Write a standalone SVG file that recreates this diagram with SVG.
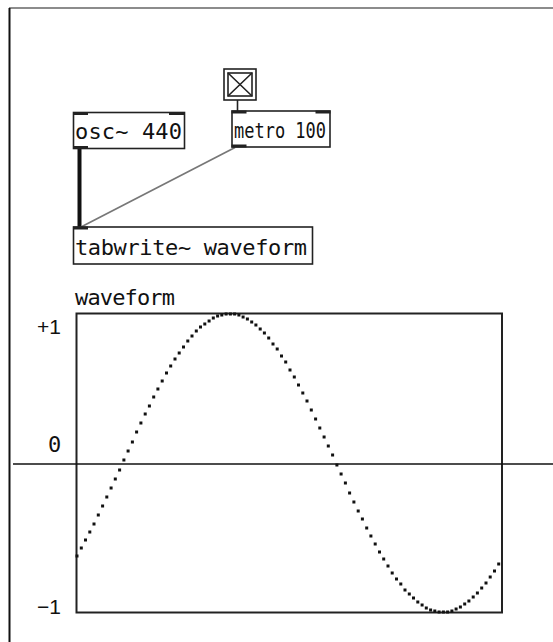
<svg xmlns="http://www.w3.org/2000/svg" width="553" height="642" viewBox="0 0 553 642">
<style>
.box{fill:#fff;stroke:#222;stroke-width:1.6}
.io{fill:#222}
.t{font-family:"DejaVu Sans Mono","Liberation Mono",monospace;font-size:22px;fill:#111}
.lbl{font-family:"Liberation Sans",Arial,sans-serif;font-size:21px;fill:#111}
</style>
<rect x="0" y="0" width="553" height="642" fill="#fff"/>
<g id="frame">
<line x1="9" y1="8" x2="553" y2="8" stroke="#666" stroke-width="1.5"/>
<line x1="9.5" y1="8" x2="9.5" y2="642" stroke="#111" stroke-width="2"/>
</g>
<g id="connectors">
<line x1="79.5" y1="148" x2="79.5" y2="228" stroke="#111" stroke-width="4"/>
<line x1="235" y1="147.5" x2="80" y2="227.5" stroke="#777" stroke-width="1.6"/>
<line x1="237.5" y1="100" x2="237.5" y2="111" stroke="#222" stroke-width="1.6"/>
</g>
<g id="toggle">
<rect class="box" x="224" y="69" width="32" height="31"/>
<rect x="228" y="73" width="24" height="23" fill="none" stroke="#222" stroke-width="1.6"/>
<path d="M228 73L252 96M252 73L228 96" stroke="#222" stroke-width="1.6"/>
</g>
<g id="osc">
<rect class="box" x="73.5" y="112.5" width="111" height="36"/>
<rect class="io" x="73" y="112" width="15" height="3"/>
<rect class="io" x="169" y="112" width="15.5" height="3"/>
<rect class="io" x="73" y="146" width="15" height="3"/>
<text class="t" x="75" y="139" textLength="107">osc~ 440</text>
</g>
<g id="metro">
<rect class="box" x="232" y="111" width="98" height="36"/>
<rect class="io" x="231.5" y="110.5" width="15" height="3"/>
<rect class="io" x="315.5" y="110.5" width="15" height="3"/>
<rect class="io" x="231.5" y="144.5" width="15" height="3"/>
<text class="t" x="234" y="138" textLength="92" lengthAdjust="spacingAndGlyphs">metro 100</text>
</g>
<g id="tabwrite">
<rect class="box" x="73.5" y="227" width="239" height="37"/>
<rect class="io" x="73" y="226.5" width="15" height="3"/>
<text class="t" x="75" y="255" textLength="232">tabwrite~ waveform</text>
</g>
<g id="graph">
<text class="t" x="75" y="305" textLength="100">waveform</text>
<rect x="76.5" y="313.5" width="425.5" height="299" fill="none" stroke="#222" stroke-width="2"/>
<line x1="13" y1="464" x2="553" y2="464" stroke="#111" stroke-width="1.6"/>
<text class="lbl" x="37" y="334">+1</text>
<text class="t" x="48" y="452">0</text>
<text class="lbl" x="37" y="614">−1</text>
<path fill="none" stroke="#111" stroke-width="3" d="M75.5 556h3M79.8 548h3M84 540h3M88.3 532h3M92.5 524h3M96.8 515h3M101.1 506h3M105.3 497h3M109.6 488h3M113.8 479h3M118.1 470h3M122.4 460h3M126.6 451h3M130.9 442h3M135.1 432h3M139.4 423h3M143.7 414h3M147.9 406h3M152.2 397h3M156.4 389h3M160.7 381h3M165 373h3M169.2 366h3M173.5 359h3M177.7 353h3M182 347h3M186.3 341h3M190.5 336h3M194.8 331h3M199 327h3M203.3 324h3M207.6 321h3M211.8 318h3M216.1 316h3M220.3 315h3M224.6 314h3M228.9 314h3M233.1 314h3M237.4 315h3M241.6 317h3M245.9 319h3M250.2 322h3M254.4 325h3M258.7 329h3M262.9 333h3M267.2 338h3M271.5 344h3M275.7 349h3M280 356h3M284.2 362h3M288.5 370h3M292.8 377h3M297 385h3M301.3 393h3M305.5 401h3M309.8 410h3M314.1 419h3M318.3 428h3M322.6 437h3M326.8 446h3M331.1 455h3M335.4 465h3M339.6 474h3M343.9 483h3M348.1 493h3M352.4 502h3M356.7 511h3M360.9 519h3M365.2 528h3M369.4 536h3M373.7 544h3M378 552h3M382.2 559h3M386.5 566h3M390.7 573h3M395 579h3M399.3 584h3M403.5 590h3M407.8 594h3M412 598h3M416.3 602h3M420.6 605h3M424.8 608h3M429.1 610h3M433.3 611h3M437.6 612h3M441.9 612h3M446.1 612h3M450.4 611h3M454.6 609h3M458.9 607h3M463.2 604h3M467.4 601h3M471.7 597h3M475.9 593h3M480.2 588h3M484.5 583h3M488.7 577h3M493 571h3M497.2 564h3"/>
</g>
</svg>
